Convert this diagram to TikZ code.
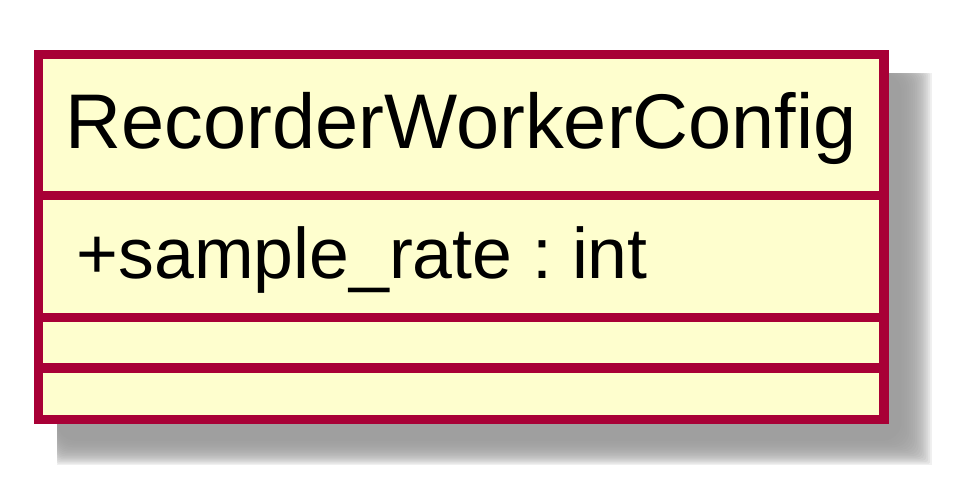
\documentclass[tikz,border=0pt]{standalone}
\usepackage{fontspec}
\setmainfont{Liberation Sans}
\definecolor{umlborder}{HTML}{A80036}
\definecolor{umlfill}{HTML}{FEFECE}
\tikzset{
  umlline/.style={draw=umlborder, line width=9.5pt},
  umltext/.style={inner sep=0pt, text=black},
}

\begin{document}
\begin{tikzpicture}[x=1pt, y=-1pt]
		\useasboundingbox (0, 0) rectangle (955, 490);
		%%%%% SHADOW %%%%%
		\foreach \i in {0,...,17}
			\fill[black!40, opacity=0.15, rounded corners=1.2*\i pt] (57, 73) rectangle (932-1.9*\i, 465-1.5*\i);
		
		%%%%% CLASS BOX %%%%%
		\draw[umlline, fill=umlfill] (38.7, 54.7) rectangle (884, 419.5);
		\draw[umlline] (38.7, 195.5) -- (884, 195.5);
		\draw[umlline] (38.7, 317.5) -- (884, 317.5);
		\draw[umlline] (38.7, 368) -- (884, 368);
		
		\node[umltext, anchor=base, font=\fontsize{77.5}{90}\selectfont] (title) at (461.4, 148) {RecorderWorkerConfig};
		\node[umltext, anchor=base west, font=\fontsize{71.6}{84}\selectfont\frenchspacing] (attr) at (76.5, 278) {+sample\_rate : int};
	\end{tikzpicture}
\end{document}
